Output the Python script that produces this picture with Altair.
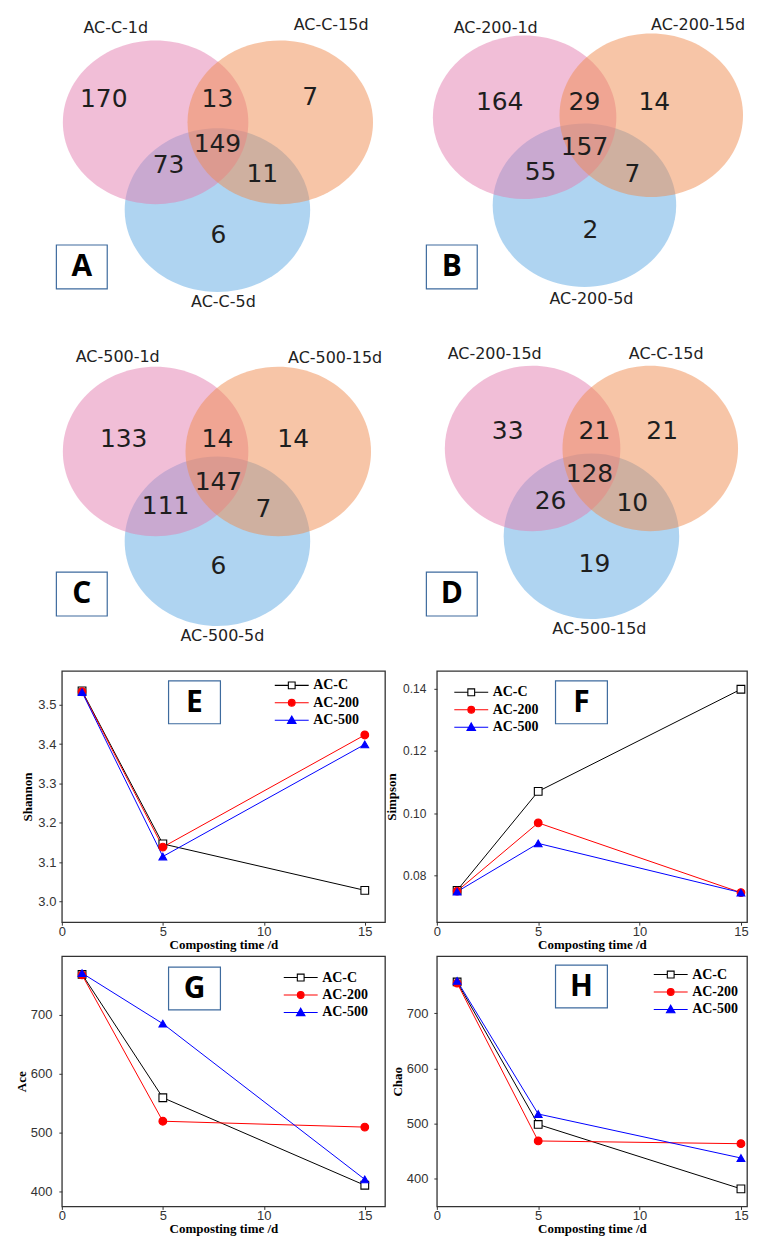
import altair as alt
import pandas as pd

# ---------------- data ----------------
SERIES = ["AC-C", "AC-200", "AC-500"]
DAYS = [1, 5, 15]

shannon_acc = [3.535, 3.146, 3.028]
shannon_200 = [3.533, 3.138, 3.423]
shannon_500 = [3.532, 3.114, 3.399]

simpson_acc = [0.0752, 0.1070, 0.1398]
simpson_200 = [0.0750, 0.0969, 0.0745]
simpson_500 = [0.0748, 0.0903, 0.0745]

ace_acc = [769, 559, 410]
ace_200 = [768, 519, 509]
ace_500 = [771, 685, 420]

chao_acc = [757, 498, 381]
chao_200 = [755, 468, 463]
chao_500 = [759, 517, 437]

# Venn counts; region order: only set1, set1&2, only set2, all three, set1&3, set2&3, only set3
venn_a_sets = ["AC-C-1d", "AC-C-15d", "AC-C-5d"]
venn_a_counts = [170, 13, 7, 149, 73, 11, 6]
venn_b_sets = ["AC-200-1d", "AC-200-15d", "AC-200-5d"]
venn_b_counts = [164, 29, 14, 157, 55, 7, 2]
venn_c_sets = ["AC-500-1d", "AC-500-15d", "AC-500-5d"]
venn_c_counts = [133, 14, 14, 147, 111, 7, 6]
venn_d_sets = ["AC-200-15d", "AC-C-15d", "AC-500-15d"]
venn_d_counts = [33, 21, 21, 128, 26, 10, 19]

# ---------------- layout / style ----------------
COL_W = [324, 311]
ROW_H = [294, 300, 252, 251]

VENN_GEOM = {
    "A": dict(centers=[(94, 112), (219, 112), (156, 200)], rx=93, ry=82,
              labels=[(54, 17), (270, 14), (162, 292)],
              nums=[(42, 89), (156, 89), (249, 87), (156, 134), (107, 155), (201, 164), (157, 225)],
              box=(20, 257)),
    "B": dict(centers=[(88, 107), (215, 105), (148, 195)], rx=92, ry=82,
              labels=[(59, 17), (262, 14), (155, 289)],
              nums=[(63, 92), (148, 92), (218, 92), (148, 137), (104, 162), (196, 164), (154, 220)],
              box=(15, 257)),
    "C": dict(centers=[(94, 114), (217, 114), (156, 204)], rx=93, ry=85,
              labels=[(56, 19), (274, 20), (161, 299)],
              nums=[(62, 102), (156, 102), (232, 102), (157, 145), (104, 169), (202, 172), (157, 229)],
              box=(20, 257)),
    "D": dict(centers=[(96, 111), (214, 111), (155, 199)], rx=88, ry=83,
              labels=[(58, 16), (230, 16), (163, 292)],
              nums=[(71, 94), (158, 94), (226, 94), (153, 137), (114, 164), (196, 166), (158, 227)],
              box=(15, 257)),
}

SET_COLORS = ["#E47DAF", "#F08C50", "#5FAAE4"]
LINE_COLORS = ["#000000", "#ff0000", "#0000ff"]
POINT_FILLS = ["#ffffff", "#ff0000", "#0000ff"]
BOX_STROKE = "#3E6B9E"

LEG_PATHS = [
    "M -2 0 L -0.4 0 M 0.4 0 L 2 0 M -0.4 -0.4 L 0.4 -0.4 L 0.4 0.4 L -0.4 0.4 Z",
    "M -2 0 L 2 0 M 0.4 0 A 0.4 0.4 0 1 1 -0.4 0 A 0.4 0.4 0 1 1 0.4 0 Z",
    "M -2 0 L 2 0 M 0 -0.5 L 0.5 0.38 L -0.5 0.38 Z",
]


def venn_panel(letter, sets, counts, g, w, h):
    xs = alt.Scale(domain=[0, w], nice=False, zero=False)
    ys = alt.Scale(domain=[0, h], nice=False, zero=False, reverse=True)

    def X(f):
        return alt.X(f, type="quantitative", scale=xs, axis=None)

    def Y(f):
        return alt.Y(f, type="quantitative", scale=ys, axis=None)

    (ax, ay), (bx, by), (cx, cy) = g["centers"]
    circles = pd.DataFrame({"set": ["c", "a", "b"], "x": [cx, ax, bx], "y": [cy, ay, by]})
    ratio = g["ry"] / g["rx"]
    ellipse = f"M -1 0 A 1 {ratio:.3f} 0 1 1 1 0 A 1 {ratio:.3f} 0 1 1 -1 0 Z"
    circ = alt.Chart(circles).mark_point(
        shape=ellipse, size=(2 * g["rx"]) ** 2, filled=True, opacity=0.5, strokeWidth=0
    ).encode(
        x=X("x"), y=Y("y"),
        color=alt.Color("set:N", scale=alt.Scale(domain=["a", "b", "c"], range=SET_COLORS), legend=None),
    )

    nums = pd.DataFrame({"x": [p[0] for p in g["nums"]], "y": [p[1] for p in g["nums"]],
                         "n": [str(c) for c in counts]})
    num_t = alt.Chart(nums).mark_text(
        font="DejaVu Sans", fontSize=25, color="#1e1e1e", align="center", baseline="middle"
    ).encode(x=X("x"), y=Y("y"), text="n:N")

    labs = pd.DataFrame({"x": [p[0] for p in g["labels"]], "y": [p[1] for p in g["labels"]], "t": sets})
    lab_t = alt.Chart(labs).mark_text(
        font="DejaVu Sans", fontSize=16, color="#222222", align="center", baseline="middle"
    ).encode(x=X("x"), y=Y("y"), text="t:N")

    bxc, byc = g["box"]
    box = pd.DataFrame({"x": [bxc - 25.5], "x2": [bxc + 25.5], "y": [byc - 22], "y2": [byc + 22],
                        "cx": [bxc], "cy": [byc], "letter": [letter]})
    rect = alt.Chart(box).mark_rect(fill="white", stroke=BOX_STROKE, strokeWidth=1.2).encode(
        x=X("x"), x2="x2", y=Y("y"), y2="y2")
    let = alt.Chart(box).mark_text(
        font="Open Sans", fontSize=30, fontWeight="bold", color="black", align="center", baseline="middle"
    ).encode(x=X("cx"), y=Y("cy"), text="letter:N")

    return alt.layer(circ, num_t, lab_t, rect, let).properties(width=w, height=h)


def line_panel(letter, title, acc, a200, a500, ydom, yvals, yfmt, xmax, w, h,
               ext, lab_pad, leg_xy, box_xy, ylab_size=13):
    df = pd.DataFrame({
        "day": DAYS * 3,
        "value": acc + a200 + a500,
        "series": [s for s in SERIES for _ in DAYS],
    })
    xenc = alt.X("day:Q", scale=alt.Scale(domain=[0, xmax], nice=False, zero=False),
                 axis=alt.Axis(values=[0, 5, 10, 15], format="d", title="Composting time /d",
                               grid=False, domain=False, ticks=True, tickSize=3, tickColor="#333333",
                               labelPadding=0, titlePadding=0, labelFlush=False,
                               labelFont="Liberation Sans", labelFontSize=13, labelColor="#333333",
                               titleFont="Liberation Serif", titleFontSize=13, titleFontWeight="bold",
                               titleColor="black"))
    yenc = alt.Y("value:Q", scale=alt.Scale(domain=ydom, nice=False, zero=False),
                 axis=alt.Axis(values=yvals, format=yfmt, title=title,
                               grid=False, domain=False, ticks=True, tickSize=3, tickColor="#333333",
                               labelPadding=lab_pad, minExtent=ext, maxExtent=ext, titlePadding=0,
                               labelFont="Liberation Sans", labelFontSize=ylab_size, labelColor="#333333",
                               titleFont="Liberation Serif", titleFontSize=13, titleFontWeight="bold",
                               titleColor="black"))
    base = alt.Chart(df)
    lines = base.mark_line(strokeWidth=1).encode(
        x=xenc, y=yenc,
        color=alt.Color("series:N", scale=alt.Scale(domain=SERIES, range=LINE_COLORS), legend=None),
    )
    pts = base.mark_point(filled=True, size=60, opacity=1, strokeWidth=1.1).encode(
        x=xenc, y=yenc,
        shape=alt.Shape("series:N", scale=alt.Scale(domain=SERIES, range=["square", "circle", "triangle-up"]),
                        legend=None),
        fill=alt.Fill("series:N", scale=alt.Scale(domain=SERIES, range=POINT_FILLS), legend=None),
        stroke=alt.Stroke("series:N", scale=alt.Scale(domain=SERIES, range=LINE_COLORS), legend=None),
    )
    leg = alt.Legend(title=None, orient="none", legendX=leg_xy[0], legendY=leg_xy[1], direction="vertical",
                     labelFont="Liberation Serif", labelFontWeight="bold", labelFontSize=14, labelColor="black",
                     symbolSize=289, symbolStrokeWidth=1.1, labelOffset=12, rowPadding=0.5, padding=0)
    legend_layer = base.mark_point(filled=True, size=289, opacity=1, strokeWidth=1.1).encode(
        x=xenc, y=yenc,
        shape=alt.Shape("series:N", scale=alt.Scale(domain=SERIES, range=LEG_PATHS), legend=leg),
        fill=alt.Fill("series:N", scale=alt.Scale(domain=SERIES, range=POINT_FILLS), legend=leg),
        stroke=alt.Stroke("series:N", scale=alt.Scale(domain=SERIES, range=LINE_COLORS), legend=leg),
    ).transform_filter("false")

    one = pd.DataFrame({"k": [0]})
    bx, by = box_xy
    rect = alt.Chart(one).mark_rect(fill="white", stroke=BOX_STROKE, strokeWidth=1.2).encode(
        x=alt.value(bx), x2=alt.value(bx + 52), y=alt.value(by), y2=alt.value(by + 43))
    let = alt.Chart(one).mark_text(
        text=letter, font="Open Sans", fontSize=30, fontWeight="bold", color="black",
        align="center", baseline="middle"
    ).encode(x=alt.value(bx + 26), y=alt.value(by + 22))

    return alt.layer(lines, pts, legend_layer, rect, let).resolve_scale(
        shape="independent", fill="independent", stroke="independent", color="independent"
    ).properties(width=w, height=h, view=alt.ViewBackground(stroke="#333333", strokeWidth=1.3))


A = venn_panel("A", venn_a_sets, venn_a_counts, VENN_GEOM["A"], COL_W[0], ROW_H[0])
B = venn_panel("B", venn_b_sets, venn_b_counts, VENN_GEOM["B"], COL_W[1], ROW_H[0])
C = venn_panel("C", venn_c_sets, venn_c_counts, VENN_GEOM["C"], COL_W[0], ROW_H[1])
D = venn_panel("D", venn_d_sets, venn_d_counts, VENN_GEOM["D"], COL_W[1], ROW_H[1])

E = line_panel("E", "Shannon", shannon_acc, shannon_200, shannon_500, [2.947, 3.586],
               [3.0, 3.1, 3.2, 3.3, 3.4, 3.5], ".1f", 16, COL_W[0], ROW_H[2],
               27, 3, (221, 5), (107, 10))
F = line_panel("F", "Simpson", simpson_acc, simpson_200, simpson_500, [0.065, 0.1457],
               [0.08, 0.10, 0.12, 0.14], ".2f", 15.3, COL_W[1], ROW_H[2],
               38, 8, (25, 12), (119, 10), ylab_size=12)
G = line_panel("G", "Ace", ace_acc, ace_200, ace_500, [374, 800],
               [400, 500, 600, 700], "d", 16, COL_W[0], ROW_H[3],
               33, 7, (230, 12), (107, 11))
H = line_panel("H", "Chao", chao_acc, chao_200, chao_500, [349, 804],
               [400, 500, 600, 700], "d", 15.3, COL_W[1], ROW_H[3],
               32, 6, (225, 9), (119, 9))

chart = alt.concat(
    A, B, C, D, E, F, G, H,
    columns=2,
    spacing={"row": 34, "column": 52},
    align="each",
    bounds="flush",
).resolve_scale(
    color="independent", shape="independent", fill="independent", stroke="independent"
).properties(
    padding={"left": 7, "top": 0, "right": 0, "bottom": 0}
).configure_view(stroke="transparent")

chart.save("out.html", embed_options={"renderer": "svg", "actions": False})
